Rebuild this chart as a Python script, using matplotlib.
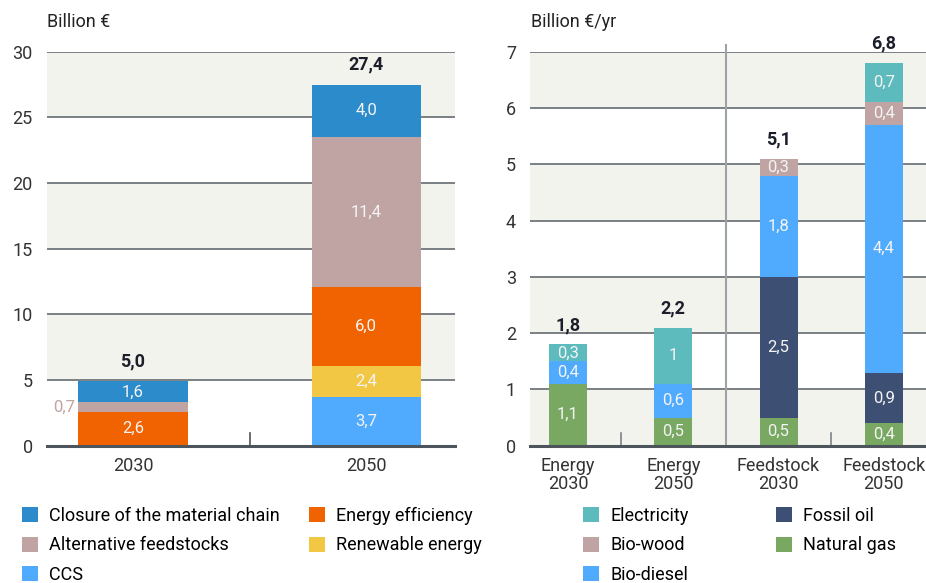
import numpy as np
import matplotlib as mpl
mpl.use("Agg")
from matplotlib import pyplot as plt
from matplotlib.patches import Patch

plt.rcParams['font.family'] = ['Roboto', 'DejaVu Sans']

# left chart: investment, billion EUR
left_cats = ['2030', '2050']
ccs = [0.0, 3.7]
renewable = [0.0, 2.4]
energy_eff = [2.6, 6.0]
alt_feed = [0.7, 11.4]
closure = [1.6, 4.0]
left_totals = ['5,0', '27,4']

# right chart: annual costs, billion EUR/yr
right_cats = ['Energy\n2030', 'Energy\n2050', 'Feedstock\n2030', 'Feedstock\n2050']
natural_gas = [1.1, 0.5, 0.5, 0.4]
fossil_oil = [0.0, 0.0, 2.5, 0.9]
bio_diesel = [0.4, 0.6, 1.8, 4.4]
bio_wood = [0.0, 0.0, 0.3, 0.4]
electricity = [0.3, 1.0, 0.0, 0.7]
right_totals = ['1,8', '2,2', '5,1', '6,8']

C_CLOSURE = '#2b8bcb'
C_ALT = '#c0a4a4'
C_EFF = '#f06300'
C_REN = '#f2c744'
C_CCS = '#50abff'
C_ELEC = '#5dbbbe'
C_OIL = '#3d4f72'
C_GAS = '#78a862'

BAND = '#f3f3ee'
GRID = '#70767a'
DARK = '#1c1f2a'
TICK = '#333333'
SEG_TXT = '#f4f4f4'


def style_axis(ax, ymax, step, shaded):
    for lo in shaded:
        ax.axhspan(lo, lo + step, color=BAND, zorder=0, lw=0)
    for y in np.arange(step, ymax + step / 2, step):
        ax.axhline(y, color=GRID, lw=1.3, zorder=1)
    ax.set_ylim(0, ymax)
    ax.set_yticks(np.arange(0, ymax + step / 2, step))
    for s in ['left', 'right', 'top']:
        ax.spines[s].set_visible(False)
    ax.spines['bottom'].set_color('#4d545b')
    ax.spines['bottom'].set_linewidth(2.2)
    ax.spines['bottom'].set_zorder(5)
    ax.tick_params(axis='both', length=0, labelsize=13, labelcolor=TICK)
    ax.tick_params(axis='y', pad=10)
    ax.tick_params(axis='x', pad=8)


fig = plt.figure(figsize=(9.26, 5.83), dpi=100)

# ---- left
ax1 = fig.add_axes([46.7 / 926, 1 - 445.7 / 583, 408.3 / 926, 394 / 583])
style_axis(ax1, 30, 5, [5, 15, 25])
x1 = np.arange(len(left_cats))
ax1.set_xlim(-0.37, 1.38)
bw1 = 0.47
series1 = [(ccs, C_CCS), (renewable, C_REN), (energy_eff, C_EFF),
           (alt_feed, C_ALT), (closure, C_CLOSURE)]
bottom = np.zeros(len(x1))
for vals, color in series1:
    vals = np.array(vals)
    ax1.bar(x1, vals, bw1, bottom=bottom, color=color, zorder=3, lw=0)
    for xi, b, v in zip(x1, bottom, vals):
        if v <= 0:
            continue
        lab = f"{v:.1f}".replace('.', ',')
        if v < 1:
            # thin segment: label outside, left of the bar
            ax1.text(xi - bw1 / 2 - 0.015, b + v / 2, lab, ha='right', va='center',
                     color=color, fontsize=12, zorder=4)
        else:
            ax1.text(xi, b + v / 2, lab, ha='center', va='center',
                     color=SEG_TXT, fontsize=12, zorder=4)
    bottom = bottom + vals
for xi, top, t in zip(x1, bottom, left_totals):
    ax1.text(xi, top + 0.85, t, ha='center', va='bottom', color=DARK,
             fontsize=13, fontweight='bold')
ax1.set_xticks(x1)
ax1.set_xticklabels(left_cats)
ax1.plot([0.5, 0.5], [0, 1.0], color='#4d545b', lw=1.2, zorder=4)
fig.text(47 / 926, 1 - 22 / 583, 'Billion €', ha='left', va='center',
         fontsize=13, color='#222222')

# ---- right
ax2 = fig.add_axes([530 / 926, 1 - 445.7 / 583, 396 / 926, 394 / 583])
style_axis(ax2, 7, 1, [0, 2, 4, 6])
x2 = np.arange(len(right_cats))
ax2.set_xlim(-0.36, 3.4)
bw2 = 0.36
series2 = [(natural_gas, C_GAS), (fossil_oil, C_OIL), (bio_diesel, C_CCS),
           (bio_wood, C_ALT), (electricity, C_ELEC)]
bottom = np.zeros(len(x2))
for vals, color in series2:
    vals = np.array(vals)
    ax2.bar(x2, vals, bw2, bottom=bottom, color=color, zorder=3, lw=0)
    for xi, b, v in zip(x2, bottom, vals):
        if v <= 0:
            continue
        lab = f"{v:g}".replace('.', ',')
        ax2.text(xi, b + v / 2, lab, ha='center', va='center',
                 color=SEG_TXT, fontsize=12, zorder=4)
    bottom = bottom + vals
for xi, top, t in zip(x2, bottom, right_totals):
    ax2.text(xi, top + 0.18, t, ha='center', va='bottom', color=DARK,
             fontsize=13, fontweight='bold')
ax2.set_xticks(x2)
ax2.set_xticklabels(right_cats, linespacing=1.0)
ax2.plot([1.5, 1.5], [0, 7.12], color='#9ea3a7', lw=1.5, zorder=2, clip_on=False)
for xt in [0.5, 2.5]:
    ax2.plot([xt, xt], [0, 0.23], color='#7d8388', lw=1.2, zorder=4)
fig.text(531 / 926, 1 - 22 / 583, 'Billion €/yr', ha='left', va='center',
         fontsize=13, color='#222222')

# ---- legends
def legend_col(items, x_px, y_px):
    handles = [Patch(facecolor=c, edgecolor='none', label=l) for l, c in items]
    fig.legend(handles=handles, loc='upper left',
               bbox_to_anchor=(x_px / 926, 1 - y_px / 583), frameon=False,
               fontsize=13, handlelength=0.9, handleheight=0.9,
               handletextpad=0.6, labelspacing=0.63, borderaxespad=0,
               borderpad=0)

legend_col([('Closure of the material chain', C_CLOSURE),
            ('Alternative feedstocks', C_ALT), ('CCS', C_CCS)], 22, 507)
legend_col([('Energy efficiency', C_EFF), ('Renewable energy', C_REN)], 309, 507)
legend_col([('Electricity', C_ELEC), ('Bio-wood', C_ALT), ('Bio-diesel', C_CCS)], 583, 507)
legend_col([('Fossil oil', C_OIL), ('Natural gas', C_GAS)], 776, 507)

fig.savefig('out.png', dpi=100)
